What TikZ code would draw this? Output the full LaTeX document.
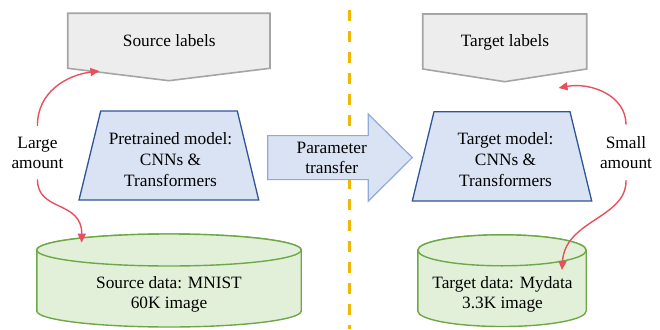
\documentclass[tikz,border=0pt]{standalone}
\usepackage{fontspec}
\setmainfont{LiberationSerif}[Extension=.ttf, UprightFont=*-Regular, BoldFont=*-Bold]
\usetikzlibrary{arrows.meta}

\definecolor{lblfill}{HTML}{EDEDED}
\definecolor{lbldraw}{HTML}{A5A5A5}
\definecolor{modfill}{HTML}{DAE3F3}
\definecolor{moddraw}{HTML}{2F5597}
\definecolor{xferdraw}{HTML}{8FAADC}
\definecolor{datafill}{HTML}{E2F0D9}
\definecolor{datadraw}{HTML}{6EA846}
\definecolor{flowred}{HTML}{E8505E}
\definecolor{divider}{HTML}{F2B705}

\begin{document}
\begin{tikzpicture}[x=1pt,y=1pt,
  txt/.style={font=\rmfamily\fontsize{17.3}{20}\selectfont, align=center, inner sep=0pt},
  modeltxt/.style={txt, font=\rmfamily\fontsize{17.3}{21}\selectfont},
  labelbox/.style={fill=lblfill, draw=lbldraw, line width=1.6pt},
  modelbox/.style={fill=modfill, draw=moddraw, line width=1.3pt},
  xferbox/.style={fill=modfill, draw=xferdraw, line width=1.2pt},
  databox/.style={fill=datafill, draw=datadraw, line width=1.4pt},
  flow/.style={draw=flowred, line width=1.4pt, -{Triangle[length=9pt,width=8pt]}},
  divline/.style={draw=divider, line width=3pt, dash pattern=on 11pt off 10pt}]

\useasboundingbox (0,0) rectangle (660,-329);

% dividing line between source and target domains
\path[divline] (349,-10) -- (349,-329);

% label pentagons
\path[labelbox] (67.7,-13.3) -- (270,-13.3) -- (270,-68.3) -- (168.8,-80.7) -- (67.7,-68.3) -- cycle;
\path[labelbox] (422.7,-14) -- (586.7,-14) -- (586.7,-69) -- (504.7,-81.7) -- (422.7,-69) -- cycle;
\node[txt, anchor=base] (srclabels) at (169.3,-46) {Source labels};
\node[txt, anchor=base] (tgtlabels) at (505,-46.5) {Target labels};

% model trapezoids
\path[modelbox] (100.7,-111) -- (237.3,-111) -- (258.7,-200) -- (79,-200) -- cycle;
\path[modelbox] (434,-111.7) -- (570,-111.7) -- (591.7,-201) -- (412.3,-201) -- cycle;
\node[modeltxt] (srcmodel) at (170.5,-159.1) {Pretrained model:\\CNNs \&\\Transformers};
\node[modeltxt] (tgtmodel) at (505.5,-159.1) {Target model:\\CNNs \&\\Transformers};

% parameter transfer block arrow
\path[xferbox] (267.7,-135.6) -- (368.3,-135.6) -- (368.3,-114.1) -- (412.3,-157.6)
  -- (368.3,-201.1) -- (368.3,-179.6) -- (267.7,-179.6) -- cycle;
\node[txt] (xfer) at (331.7,-158.3) {Parameter\\transfer};

% data cylinders
\path[databox] (36.8,-250) -- (36.8,-311) arc[start angle=180, end angle=360, x radius=132.2, y radius=16]
  -- (301.2,-250) arc[start angle=0, end angle=180, x radius=132.2, y radius=16] -- cycle;
\path[databox] (169,-250) ellipse[x radius=132.2, y radius=16];
\path[databox] (417.8,-250.3) -- (417.8,-311) arc[start angle=180, end angle=360, x radius=84.2, y radius=15.5]
  -- (586.2,-250.3) arc[start angle=0, end angle=180, x radius=84.2, y radius=15.5] -- cycle;
\path[databox] (502,-250.3) ellipse[x radius=84.2, y radius=15.5];
\node[txt] (srcdata) at (169,-294.3) {Source data: MNIST\\60K image};
\node[txt] (tgtdata) at (502.5,-294.3) {Target data: Mydata\\3.3K image};

% amount annotations
\node[txt, inner sep=10.8pt] (large) at (37.5,-152.6) {Large\\amount};
\node[txt, inner sep=11.5pt] (small) at (626,-152.4) {Small\\amount};

\coordinate (srclabelsin) at (99.5,-71);
\coordinate (srcdatain) at (81.7,-242.7);
\coordinate (tgtlabelsin) at (558.5,-88);
\coordinate (tgtdatain) at (562,-270);

\draw[flow] (large.north) .. controls (37,-92) and (67,-75) .. (srclabelsin);
\draw[flow] (large.south) .. controls (37,-212) and (82,-200) .. (srcdatain);
\draw[flow] (small.north) .. controls (626,-95) and (590,-82) .. (tgtlabelsin);
\draw[flow] (small.south) .. controls (627,-218) and (565,-220) .. (tgtdatain);
\end{tikzpicture}
\end{document}
